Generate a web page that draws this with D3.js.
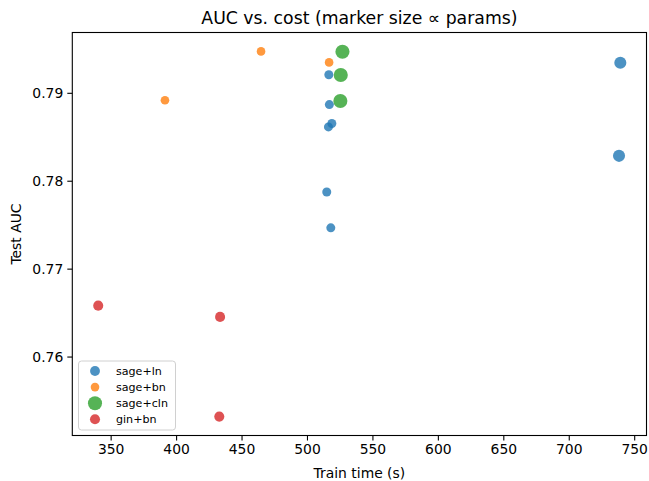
<!DOCTYPE html>
<html>
<head>
<meta charset="utf-8">
<script src="https://cdn.jsdelivr.net/npm/d3@7"></script>
<style>
  body { margin: 0; background: #fff; }
  text { font-family: "DejaVu Sans", sans-serif; }
</style>
</head>
<body>
<svg id="chart" width="649" height="481"></svg>
<script>
// series, in draw order
var seriesNames = ["sage+ln", "sage+bn", "sage+cln", "gin+bn"];
var seriesColors = ["#1f77b4", "#ff7f0e", "#2ca02c", "#d62728"];

// train time (s), test AUC, params (K, only relative size matters)
var sageLnTime = [516.7, 517.1, 519.0, 516.4, 515.1, 518.2, 739.4, 738.4];
var sageLnAuc = [0.79206, 0.78866, 0.78651, 0.78612, 0.77872, 0.77464, 0.79342, 0.78283];
var sageLnParams = [200, 200, 200, 200, 200, 200, 360, 360];

var sageBnTime = [516.9, 464.9, 391.5];
var sageBnAuc = [0.79346, 0.79471, 0.78915];
var sageBnParams = [185, 185, 185];

var sageClnTime = [527.1, 525.8, 525.5];
var sageClnAuc = [0.79467, 0.79202, 0.78907];
var sageClnParams = [490, 490, 490];

var ginBnTime = [340.5, 433.6, 433.0];
var ginBnAuc = [0.76579, 0.76451, 0.75317];
var ginBnParams = [250, 250, 250];

var xTicks = [350, 400, 450, 500, 550, 600, 650, 700, 750];
var yTicks = [0.76, 0.77, 0.78, 0.79];

var allSeries = [
	[sageLnTime, sageLnAuc, sageLnParams],
	[sageBnTime, sageBnAuc, sageBnParams],
	[sageClnTime, sageClnAuc, sageClnParams],
	[ginBnTime, ginBnAuc, ginBnParams]
];

var plotL = 72.3, plotR = 646.5, plotT = 32.5, plotB = 435.5;

var svg = d3.select("#chart");

var x = d3.scaleLinear().domain([320.7, 759.4]).range([plotL, plotR]);
var y = d3.scaleLinear().domain([0.75102, 0.79686]).range([plotB, plotT]);
var r = d3.scaleSqrt().domain([0, 200]).range([0, 4.5]);

var xAxis = svg.append("g")
	.attr("transform", "translate(0," + plotB + ")")
	.call(d3.axisBottom(x).tickValues(xTicks).tickSize(5).tickPadding(4).tickFormat(d3.format("d")));
var yAxis = svg.append("g")
	.attr("transform", "translate(" + plotL + ",0)")
	.call(d3.axisLeft(y).tickValues(yTicks).tickSize(5).tickPadding(4).tickFormat(d3.format(".2f")));

[xAxis, yAxis].forEach(function(a) {
	a.select(".domain").remove();
	a.selectAll("line").attr("stroke", "#000").attr("stroke-width", 1.1);
	a.selectAll("text").attr("font-size", 13.9).attr("fill", "#000")
		.style("font-family", "'DejaVu Sans', sans-serif");
});

// points
allSeries.forEach(function(s, i) {
	var pts = s[0].map(function(t, j) { return {t: t, auc: s[1][j], p: s[2][j]}; });
	svg.append("g").selectAll("circle")
		.data(pts)
		.enter().append("circle")
		.attr("cx", function(d) { return x(d.t); })
		.attr("cy", function(d) { return y(d.auc); })
		.attr("r", function(d) { return r(d.p); })
		.attr("fill", seriesColors[i])
		.attr("fill-opacity", 0.8);
});

// frame
svg.append("rect")
	.attr("x", plotL).attr("y", plotT)
	.attr("width", plotR - plotL).attr("height", plotB - plotT)
	.attr("fill", "none").attr("stroke", "#000").attr("stroke-width", 1.1);

// title and axis labels
svg.append("text")
	.attr("x", (plotL + plotR) / 2).attr("y", 24)
	.attr("text-anchor", "middle").attr("font-size", 17.3)
	.text("AUC vs. cost (marker size \u221d params)");
svg.append("text")
	.attr("x", (plotL + plotR) / 2).attr("y", 478)
	.attr("text-anchor", "middle").attr("font-size", 13.9)
	.text("Train time (s)");
svg.append("text")
	.attr("transform", "translate(21," + (plotT + plotB) / 2 + ") rotate(-90)")
	.attr("text-anchor", "middle").attr("font-size", 13.9)
	.text("Test AUC");

// legend
var legend = svg.append("g");
legend.append("rect")
	.attr("x", 78.5).attr("y", 361).attr("width", 97).attr("height", 69)
	.attr("rx", 3).attr("ry", 3)
	.attr("fill", "#fff").attr("fill-opacity", 0.8)
	.attr("stroke", "#d0d0d0").attr("stroke-width", 1);
seriesNames.forEach(function(name, i) {
	var ly = 371 + i * 16.1;
	legend.append("circle")
		.attr("cx", 95).attr("cy", ly)
		.attr("r", r(d3.mean(allSeries[i][2])))
		.attr("fill", seriesColors[i]).attr("fill-opacity", 0.8);
	legend.append("text")
		.attr("x", 116).attr("y", ly + 4)
		.attr("font-size", 11.1)
		.text(name);
});
</script>
</body>
</html>
